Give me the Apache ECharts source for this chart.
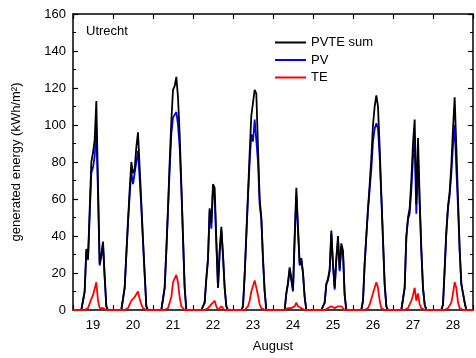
<!DOCTYPE html>
<html>
<head>
<meta charset="utf-8">
<script src="https://cdn.jsdelivr.net/npm/echarts@6/dist/echarts.min.js"></script>
<style>
  html, body { margin: 0; padding: 0; background: #fff; }
  #chart { width: 476px; height: 358px; }
</style>
</head>
<body>
<div id="chart"></div>
<script>
// days of August shown, and the hours of each day that carry a reading
const days = [19, 20, 21, 22, 23, 24, 25, 26, 27, 28];
const hours = [0, 5, 6, 7, 8, 9, 10, 11, 12, 13, 14, 15, 16, 17, 18, 19, 20, 21, 24];

// kWh/m2 per hour, one row per day
const pvteSum = [
  [0, 0, 0, 10, 33, 28, 27, 80, 85, 92, 113, 68, 25, 30, 37, 18, 2, 0, 0],
  [0, 0, 0, 12, 30, 48, 65, 80, 74, 76, 88, 96, 77, 58, 38, 20, 2, 0, 0],
  [0, 0, 0, 12, 32, 55, 80, 102, 119, 121, 126, 115, 95, 68, 40, 12, 0, 0, 0],
  [0, 0, 0, 4, 17, 28, 55, 47, 68, 66, 38, 12, 32, 45, 30, 12, 2, 0, 0],
  [0, 0, 2, 19, 41, 63, 85, 105, 104, 119, 117, 88, 60, 50, 28, 10, 0, 0, 0],
  [0, 0, 0, 0, 9, 15, 23, 17, 11, 40, 66, 45, 25, 28, 20, 7, 0, 0, 0],
  [0, 0, 0, 4, 14, 17, 22, 43, 25, 12, 28, 40, 22, 36, 32, 8, 0, 0, 0],
  [0, 0, 5, 25, 40, 55, 68, 82, 100, 110, 116, 110, 88, 62, 38, 14, 2, 0, 0],
  [0, 0, 0, 12, 40, 50, 55, 70, 90, 103, 57, 93, 60, 33, 12, 3, 0, 0, 0],
  [0, 0, 3, 22, 42, 56, 64, 78, 98, 115, 88, 60, 33, 14, 15, 4, 0, 0, 0]
];
const pv = [
  [0, 0, 0, 10, 32, 27, 26, 74, 77, 83, 98, 63, 24, 29, 36, 18, 2, 0, 0],
  [0, 0, 0, 12, 30, 47, 62, 75, 68, 69, 80, 86, 71, 55, 37, 19, 2, 0, 0],
  [0, 0, 0, 12, 32, 54, 76, 95, 104, 104, 107, 100, 88, 66, 39, 12, 0, 0, 0],
  [0, 0, 0, 4, 17, 27, 54, 44, 65, 61, 36, 12, 31, 43, 29, 12, 2, 0, 0],
  [0, 0, 2, 19, 40, 61, 80, 95, 91, 103, 102, 80, 57, 49, 27, 10, 0, 0, 0],
  [0, 0, 0, 0, 9, 14, 22, 16, 10, 38, 62, 43, 24, 27, 20, 7, 0, 0, 0],
  [0, 0, 0, 4, 14, 16, 21, 41, 24, 11, 27, 38, 21, 34, 31, 8, 0, 0, 0],
  [0, 0, 5, 25, 40, 54, 65, 76, 91, 98, 101, 98, 83, 61, 38, 14, 2, 0, 0],
  [0, 0, 0, 12, 39, 49, 52, 65, 82, 91, 52, 84, 57, 32, 12, 3, 0, 0, 0],
  [0, 0, 3, 22, 42, 55, 62, 74, 89, 100, 76, 56, 32, 14, 15, 4, 0, 0, 0]
];
const te = [
  [0, 0, 0, 0, 1, 1, 1, 6, 8, 9, 15, 5, 1, 1, 1, 0, 0, 0, 0],
  [0, 0, 0, 0, 0, 1, 3, 5, 6, 7, 8, 10, 6, 3, 1, 1, 0, 0, 0],
  [0, 0, 0, 0, 0, 1, 4, 7, 15, 17, 19, 15, 7, 2, 1, 0, 0, 0, 0],
  [0, 0, 0, 0, 0, 1, 1, 3, 3, 5, 2, 0, 1, 2, 1, 0, 0, 0, 0],
  [0, 0, 0, 0, 1, 2, 5, 10, 13, 16, 15, 8, 3, 1, 1, 0, 0, 0, 0],
  [0, 0, 0, 0, 0, 1, 1, 1, 1, 2, 4, 2, 1, 1, 0, 0, 0, 0, 0],
  [0, 0, 0, 0, 0, 1, 1, 2, 1, 1, 1, 2, 1, 2, 1, 0, 0, 0, 0],
  [0, 0, 0, 0, 0, 1, 3, 6, 9, 12, 15, 12, 5, 1, 0, 0, 0, 0, 0],
  [0, 0, 0, 0, 1, 1, 3, 5, 8, 12, 5, 9, 3, 1, 0, 0, 0, 0, 0],
  [0, 0, 0, 0, 0, 1, 2, 4, 9, 15, 12, 4, 1, 0, 0, 0, 0, 0, 0]
];

const yTicks = [0, 20, 40, 60, 80, 100, 120, 140, 160];

function toPoints(rows) {
  const out = [];
  days.forEach((d, i) => {
    hours.forEach((h, j) => out.push([d + h / 24, rows[i][j]]));
  });
  return out;
}

const font = "'Liberation Sans', Arial, sans-serif";
const black = "#000";

const tickAxis = {
  axisLine: { show: true, lineStyle: { color: black, width: 1.5 } },
  axisTick: { show: true, inside: true, length: 5, lineStyle: { color: black, width: 1.2 } },
  axisLabel: { show: false },
  splitLine: { show: false }
};

const line = (name, rows, color, z) => ({
  name,
  type: "line",
  data: toPoints(rows),
  showSymbol: false,
  symbol: "none",
  z,
  lineStyle: { color, width: 1.8 },
  itemStyle: { color },
  animation: false
});

const chart = echarts.init(document.getElementById("chart"), null, { renderer: "canvas" });
chart.setOption({
  animation: false,
  textStyle: { fontFamily: font },
  title: {
    text: "Utrecht",
    left: 86,
    top: 25,
    padding: 0,
    textStyle: { fontSize: 13, fontWeight: "normal", color: black, fontFamily: font }
  },
  legend: {
    orient: "vertical",
    left: 270,
    top: 31,
    itemWidth: 31,
    itemHeight: 2,
    itemGap: 4.5,
    icon: "rect",
    textStyle: { fontSize: 13, color: black, fontFamily: font },
    data: ["PVTE sum", "PV", "TE"]
  },
  grid: { left: 73, right: 1, top: 14, bottom: 48 },
  xAxis: [
    Object.assign({ type: "value", position: "bottom", min: 19, max: 29, interval: 1 }, tickAxis),
    {
      type: "value",
      position: "bottom",
      min: 18.5,
      max: 28.5,
      interval: 0.5,
      axisLine: { show: false },
      axisTick: { show: false },
      splitLine: { show: false },
      axisLabel: {
        show: true,
        margin: 9,
        fontSize: 13,
        color: black,
        fontFamily: font,
        formatter: v => (Number.isInteger(v) && days.includes(v) ? String(v) : "")
      },
      name: "August",
      nameLocation: "middle",
      nameGap: 30,
      nameTextStyle: { fontSize: 13, color: black, fontFamily: font }
    },
    Object.assign({ type: "value", position: "top", min: 19, max: 29, interval: 1 }, tickAxis)
  ],
  yAxis: [
    Object.assign({}, tickAxis, {
      type: "value",
      position: "left",
      min: 0,
      max: 160,
      interval: 20,
      minorTick: { show: true, splitNumber: 2, length: 3, lineStyle: { color: black, width: 1 } },
      axisLabel: {
        show: true,
        margin: 7,
        fontSize: 13,
        color: black,
        fontFamily: font,
        formatter: v => (yTicks.includes(v) ? String(v) : "")
      },
      name: "generated energy (kWh/m²)",
      nameLocation: "middle",
      nameGap: 50,
      nameTextStyle: { fontSize: 13, color: black, fontFamily: font }
    }),
    Object.assign({}, tickAxis, {
      type: "value",
      position: "right",
      min: 0,
      max: 160,
      interval: 20,
      minorTick: { show: true, splitNumber: 2, length: 3, lineStyle: { color: black, width: 1 } }
    })
  ],
  series: [
    line("PVTE sum", pvteSum, "#000000", 3),
    line("PV", pv, "#0000ff", 2),
    line("TE", te, "#ff0000", 4)
  ]
});
</script>
</body>
</html>
